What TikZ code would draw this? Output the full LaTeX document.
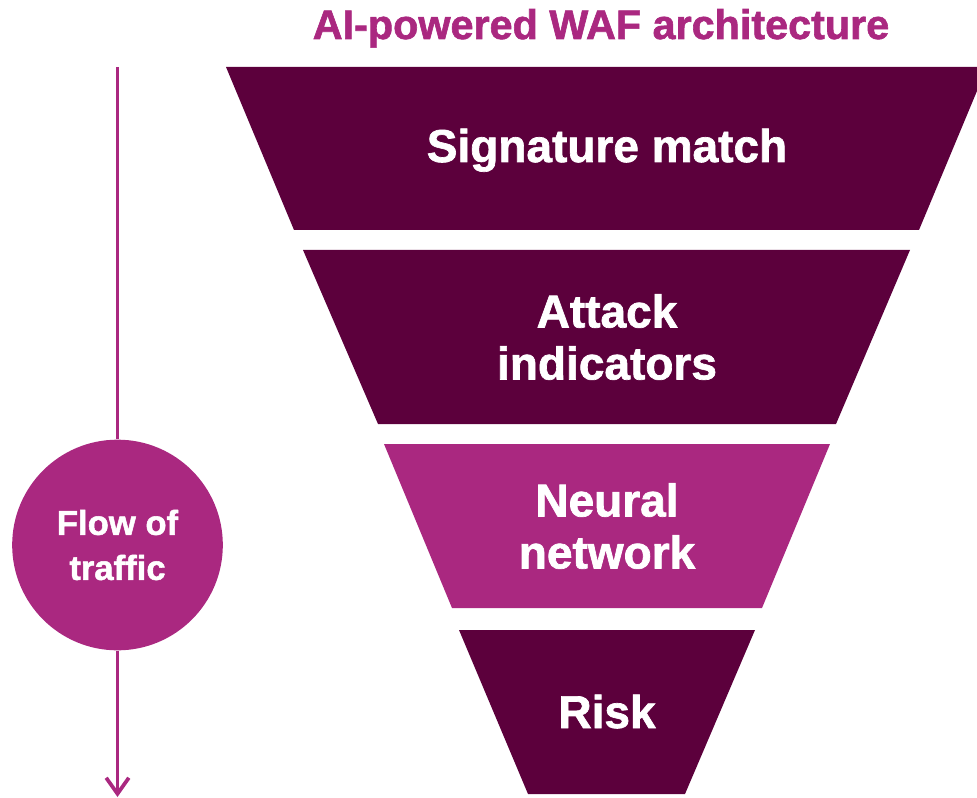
\documentclass[tikz,border=0pt]{standalone}
\usepackage{fontspec}
\setmainfont{Liberation Sans}[BoldFeatures={FakeBold=1.5}]
\usetikzlibrary{arrows.meta}
\definecolor{plum}{RGB}{92,0,60}
\definecolor{berry}{RGB}{170,40,128}
\begin{document}
\begin{tikzpicture}[x=0.75pt,y=-0.75pt,
  trapdark/.style={fill=plum},
  traplight/.style={fill=berry},
  lbl/.style={text=white, font=\bfseries\fontsize{34.5}{39}\selectfont, align=center, inner sep=0pt},
  flowline/.style={draw=berry, line width=2.25pt},
  titlestyle/.style={text=berry, font=\bfseries\fontsize{31}{35}\selectfont, anchor=base, inner sep=0pt},
  flowcircle/.style={circle, fill=berry, minimum size=158pt, inner sep=0pt, text=white, align=center,
    font=\bfseries\fontsize{26}{33.75}\selectfont}]
\useasboundingbox (0,0) rectangle (977,798);
% funnel layers
\fill[trapdark]  (226,67) -- (987,67) -- (919,230) -- (294,230) -- cycle;
\fill[trapdark]  (303,250) -- (910,250) -- (836,424) -- (378,424) -- cycle;
\fill[traplight] (384,444) -- (830,444) -- (762,608) -- (452,608) -- cycle;
\fill[trapdark]  (459,630) -- (755,630) -- (685,794) -- (528,794) -- cycle;
% labels
\node[titlestyle] (title) at (601,39) {AI-powered WAF architecture};
\node[lbl, anchor=base] (sig) at (607,162) {Signature match};
\node[lbl] (att) at (607,337) {Attack\\indicators};
\node[lbl] (neu) at (607,526) {Neural\\network};
\node[lbl, anchor=base] (risk) at (607,728) {Risk};
% flow of traffic
\node[flowcircle] (flow) at (117.5,545) {Flow of\\traffic};
\coordinate (ftop) at (117.5,67);
\coordinate (fbot) at (117.5,797);
\draw[flowline] (ftop) -- (flow);
\draw[flowline, -{Straight Barb[length=12pt,width=17pt,line width=2.8pt]}] (flow) -- (fbot);
\end{tikzpicture}
\end{document}
